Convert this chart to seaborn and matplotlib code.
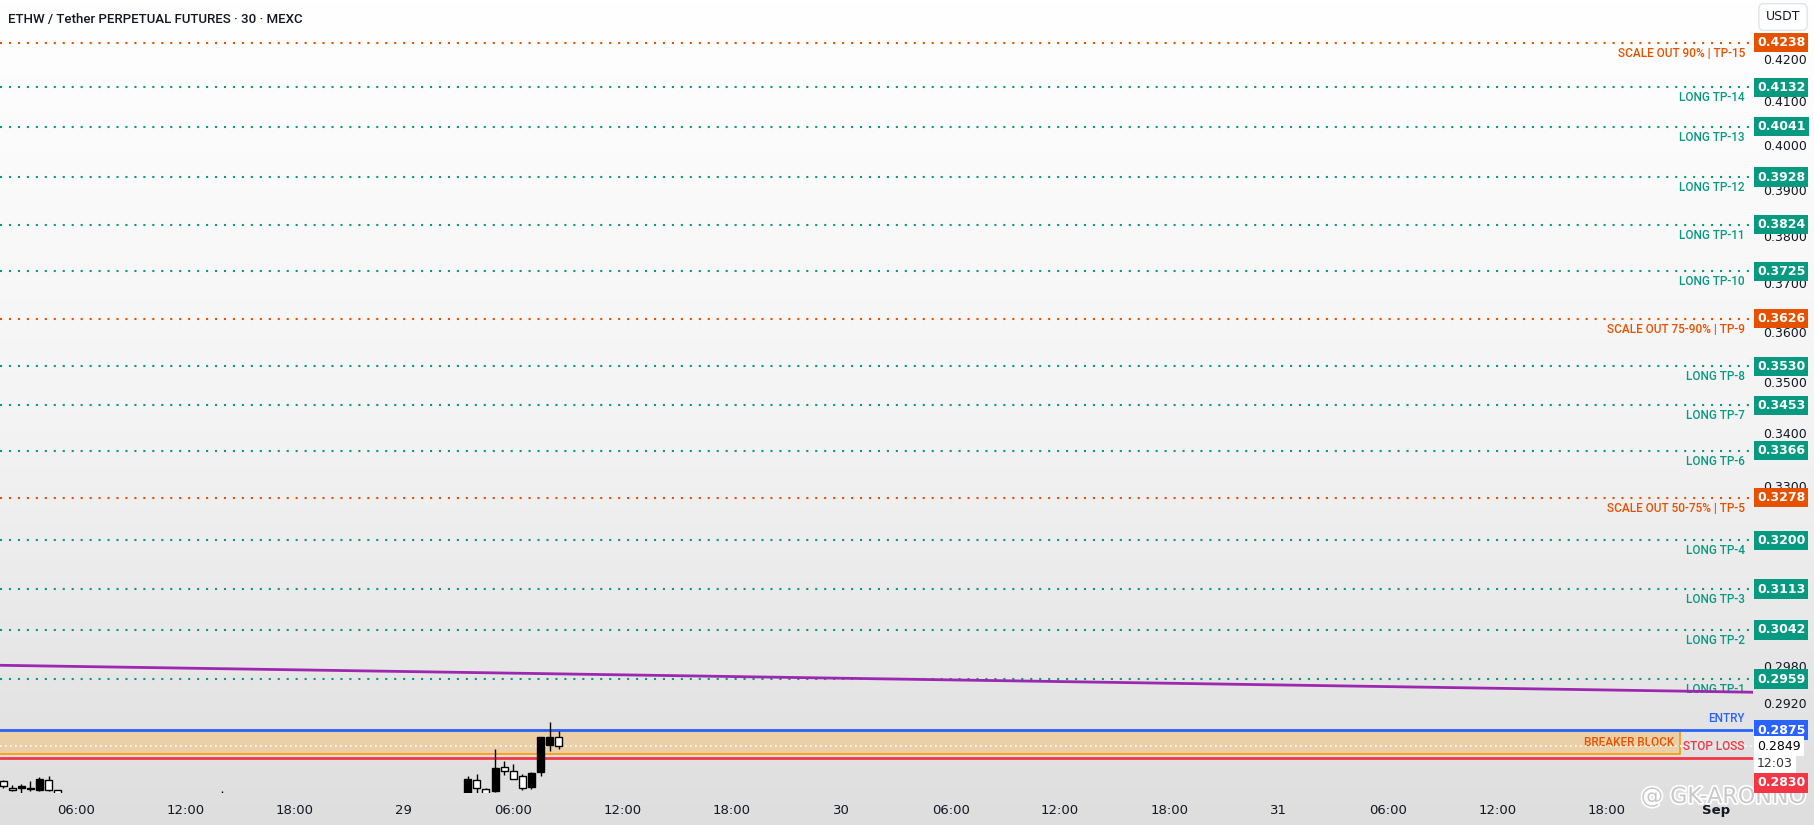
import numpy as np
import pandas as pd
import matplotlib
matplotlib.use("Agg")
import matplotlib.pyplot as plt
import matplotlib.dates as mdates
import matplotlib.patheffects as pe
from matplotlib.colors import LinearSegmentedColormap
from matplotlib.patches import Rectangle
from matplotlib.ticker import FixedLocator, NullLocator, FuncFormatter
import seaborn as sns

TITLE = "ETHW / Tether PERPETUAL FUTURES · 30 · MEXC"

# 30 min candles (only the ones that show inside the visible price range)
candle_times = ["2023-08-28 02:00", "2023-08-28 02:30", "2023-08-28 03:00", "2023-08-28 03:30",
                "2023-08-28 04:00", "2023-08-28 04:30", "2023-08-28 05:00", "2023-08-28 14:00",
                "2023-08-29 03:30", "2023-08-29 04:00", "2023-08-29 04:30", "2023-08-29 05:00",
                "2023-08-29 05:30", "2023-08-29 06:00", "2023-08-29 06:30", "2023-08-29 07:00",
                "2023-08-29 07:30", "2023-08-29 08:00", "2023-08-29 08:30"]
opens = [0.2793, 0.2782, 0.2782, 0.2781, 0.2779, 0.2795, 0.2779, 0.2770,
         0.2770, 0.2795, 0.2781, 0.2778, 0.2816, 0.2809, 0.2801, 0.2784, 0.2808, 0.2851, 0.2864]
highs = [0.2795, 0.2787, 0.2789, 0.2793, 0.2800, 0.2801, 0.2780, 0.2778,
         0.2801, 0.2805, 0.2782, 0.2844, 0.2825, 0.2820, 0.2805, 0.2808, 0.2864, 0.2888, 0.2873]
lows = [0.2782, 0.2777, 0.2775, 0.2777, 0.2778, 0.2778, 0.2768, 0.2760,
        0.2765, 0.2774, 0.2766, 0.2776, 0.2803, 0.2797, 0.2779, 0.2781, 0.2801, 0.2841, 0.2844]
closes = [0.2786, 0.2779, 0.2786, 0.2782, 0.2797, 0.2779, 0.2770, 0.2765,
          0.2797, 0.2782, 0.2770, 0.2814, 0.2809, 0.2797, 0.2782, 0.2806, 0.2864, 0.2864, 0.2849]

# target levels
level_prices = [0.4238, 0.4132, 0.4041, 0.3928, 0.3824, 0.3725, 0.3626, 0.3530,
                0.3453, 0.3366, 0.3278, 0.3200, 0.3113, 0.3042, 0.2959]
level_names = ["SCALE OUT 90% | TP-15", "LONG TP-14", "LONG TP-13", "LONG TP-12",
               "LONG TP-11", "LONG TP-10", "SCALE OUT 75-90% | TP-9", "LONG TP-8",
               "LONG TP-7", "LONG TP-6", "SCALE OUT 50-75% | TP-5", "LONG TP-4",
               "LONG TP-3", "LONG TP-2", "LONG TP-1"]

entry_price = 0.2875
stop_price = 0.2830
last_price = 0.2849
countdown = "12:03"
block_low = 0.2836
block_start = "2023-08-28 00:00"
block_end = "2023-08-31 22:00"

trend_times = ["2023-08-28 01:50", "2023-09-01 02:02"]
trend_prices = [0.2982, 0.2937]

price_ticks = [0.42, 0.41, 0.40, 0.39, 0.38, 0.37, 0.36, 0.35, 0.34, 0.33, 0.298, 0.292]
time_ticks = ["2023-08-28 06:00", "2023-08-28 12:00", "2023-08-28 18:00", "2023-08-29 00:00",
              "2023-08-29 06:00", "2023-08-29 12:00", "2023-08-29 18:00", "2023-08-30 00:00",
              "2023-08-30 06:00", "2023-08-30 12:00", "2023-08-30 18:00", "2023-08-31 00:00",
              "2023-08-31 06:00", "2023-08-31 12:00", "2023-08-31 18:00", "2023-09-01 00:00"]
time_labels = ["06:00", "12:00", "18:00", "29", "06:00", "12:00", "18:00", "30",
               "06:00", "12:00", "18:00", "31", "06:00", "12:00", "18:00", "Sep"]

TEAL = "#089981"
ORANGE = "#e65100"
BLUE = "#2962ff"
RED = "#f23645"
PURPLE = "#9c27b0"
LABEL_FONT = ["Roboto", "DejaVu Sans"]
LABEL_KW = dict(fontsize=8.5, fontweight="medium", family=LABEL_FONT)


def tnum(s):
    return mdates.date2num(pd.to_datetime(s))


sns.set_theme(style="white")
plt.rcParams['font.family'] = ['DejaVu Sans']

fig = plt.figure(figsize=(18.15, 8.25), dpi=100)

# gradient background
bg = fig.add_axes([0, 0, 1, 1], zorder=-10)
grad_cmap = LinearSegmentedColormap.from_list("bg", ["#ffffff", "#f4f4f4", "#dedede"])
bg.imshow(np.linspace(0, 1, 256).reshape(-1, 1), cmap=grad_cmap, aspect="auto",
          extent=[0, 1, 0, 1])
bg.axis("off")

ax = fig.add_axes([0, 32 / 825, 1753 / 1815, 793 / 825])
ax.set_facecolor("none")
ax.set_yscale("log")
ax.set_ylim(0.27746, 0.4341)
ax.set_xlim(tnum("2023-08-28 01:50"), tnum("2023-09-01 02:02"))
for sp in ax.spines.values():
    sp.set_visible(False)

# levels
for price, name in zip(level_prices, level_names):
    col = ORANGE if name.startswith("SCALE") else TEAL
    ax.axhline(price, color=col, ls=(0, (1, 3.3)), lw=1.5, zorder=2)
    ax.annotate(name, xy=(1, price), xycoords=("axes fraction", "data"),
                xytext=(-8, -4), textcoords="offset pixels", ha="right", va="top",
                color=col, **LABEL_KW)
    ax.annotate(f"{price:.4f}", xy=(1, price), xycoords=("axes fraction", "data"),
                xytext=(4, 0), textcoords="offset pixels", ha="left", va="center",
                fontsize=9, fontweight="bold", color="white", annotation_clip=False,
                bbox=dict(boxstyle="square,pad=0.25", fc=col, ec="none"), zorder=10)

# breaker block
bx0, bx1 = tnum(block_start), tnum(block_end)
ax.add_patch(Rectangle((bx0, block_low), bx1 - bx0, entry_price - block_low,
                       facecolor="#ebcfa6", edgecolor="#ff9800", lw=1.2, zorder=1))
ax.text(bx1 - 0.012, (block_low * entry_price) ** 0.5, "BREAKER BLOCK", ha="right",
        va="center", color=ORANGE, zorder=3, **LABEL_KW)

# trend line
tr = pd.DataFrame({"t": [tnum(t) for t in trend_times], "p": trend_prices})
sns.lineplot(data=tr, x="t", y="p", ax=ax, color=PURPLE, lw=2, zorder=3)

ax.axhline(entry_price, color=BLUE, lw=2, zorder=3)
ax.axhline(stop_price, color=RED, lw=2, zorder=3)
ax.axhline(last_price, color="white", ls=(0, (1, 2)), lw=1.2, zorder=3)

ax.annotate("ENTRY", xy=(1, entry_price), xycoords=("axes fraction", "data"),
            xytext=(-8, 5), textcoords="offset pixels", ha="right", va="bottom",
            color=BLUE, **LABEL_KW)
ax.annotate("STOP LOSS", xy=(1, stop_price), xycoords=("axes fraction", "data"),
            xytext=(-8, 5), textcoords="offset pixels", ha="right", va="bottom",
            color=RED, **LABEL_KW)

# candles
ct = np.array([tnum(t) for t in candle_times])
o = np.array(opens)
c = np.array(closes)
fills = ["black" if cc >= oo else "white" for oo, cc in zip(o, c)]
ax.vlines(ct, lows, highs, color="black", lw=1, zorder=5)
ax.bar(ct, np.abs(c - o), bottom=np.minimum(o, c), width=0.77 / 48, color=fills,
       edgecolor="black", linewidth=1, zorder=6)

# price boxes for entry / last / stop
ax.annotate(f"{entry_price:.4f}", xy=(1, entry_price), xycoords=("axes fraction", "data"),
            xytext=(4, 0), textcoords="offset pixels", ha="left", va="center",
            fontsize=9, fontweight="bold", color="white", annotation_clip=False,
            bbox=dict(boxstyle="square,pad=0.25", fc=BLUE, ec="none"), zorder=10)
ax.annotate(f"{last_price:.4f}", xy=(1, last_price), xycoords=("axes fraction", "data"),
            xytext=(4, 0), textcoords="offset pixels", ha="left", va="center",
            fontsize=9, color="black", annotation_clip=False,
            bbox=dict(boxstyle="square,pad=0.25", fc="white", ec="none"), zorder=10)
ax.annotate(countdown, xy=(1, last_price), xycoords=("axes fraction", "data"),
            xytext=(4, -17), textcoords="offset pixels", ha="left", va="center",
            fontsize=9, color="#333333", annotation_clip=False,
            bbox=dict(boxstyle="square,pad=0.25", fc="white", ec="none"), zorder=10)
ax.annotate(f"{stop_price:.4f}", xy=(1, stop_price), xycoords=("axes fraction", "data"),
            xytext=(4, -25), textcoords="offset pixels", ha="left", va="center",
            fontsize=9, fontweight="bold", color="white", annotation_clip=False,
            bbox=dict(boxstyle="square,pad=0.25", fc=RED, ec="none"), zorder=10)

# axes
ax.yaxis.tick_right()
ax.yaxis.set_major_locator(FixedLocator(price_ticks))
ax.yaxis.set_minor_locator(NullLocator())
ax.yaxis.set_major_formatter(FuncFormatter(lambda v, p: f"{v:.4f}"))
ax.tick_params(axis="y", length=0, pad=7, labelsize=9, labelcolor="#131722")
ax.set_xticks([tnum(t) for t in time_ticks])
ax.set_xticklabels(time_labels)
ax.xaxis.set_minor_locator(NullLocator())
ax.tick_params(axis="x", length=0, pad=8, labelsize=9.5, labelcolor="#131722")
for lab in ax.get_xticklabels():
    if lab.get_text() == "Sep":
        lab.set_fontweight("bold")
ax.set_xlabel("")
ax.set_ylabel("")
ax.grid(False)

fig.text(8 / 1815, 1 - 19 / 825, TITLE, ha="left", va="center", fontsize=9.5,
         fontweight="medium", color="#131722", family=["Roboto", "DejaVu Sans"])
fig.text(1783 / 1815, 1 - 17 / 825, "USDT", ha="center", va="center", fontsize=9,
         color="#131722",
         bbox=dict(boxstyle="round,pad=0.55,rounding_size=0.4", fc="white", ec="#e0e3eb"))

# watermark
fig.text(1806 / 1815, (825 - 797) / 825, "@ GK-ARONNO", ha="right", va="center",
         fontsize=16, color="#c8c8c8", zorder=-1,
         path_effects=[pe.withStroke(linewidth=2.5, foreground="white")])

fig.savefig("out.png", dpi=100)
